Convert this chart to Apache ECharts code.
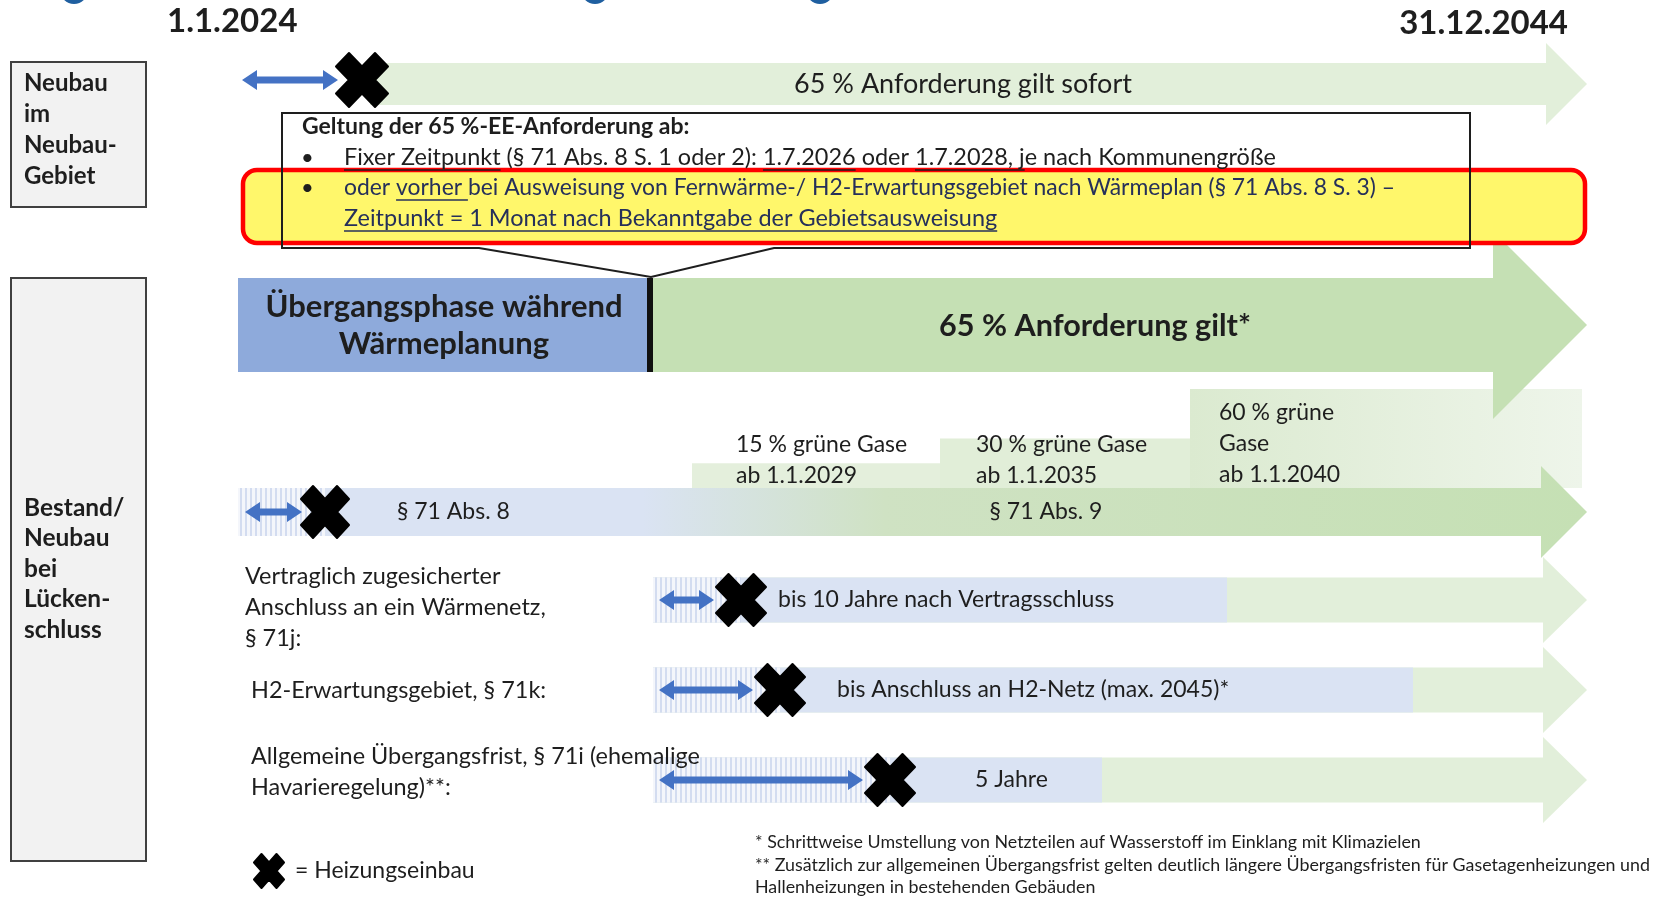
<!DOCTYPE html>
<html>
<head>
<meta charset="utf-8">
<script src="https://cdn.jsdelivr.net/npm/echarts@6/dist/echarts.min.js"></script>
<style>
  html, body { margin: 0; padding: 0; background: #fff; }
  #chart { width: 1666px; height: 899px; }
</style>
</head>
<body>
<div id="chart"></div>
<script>
// --- Daten -------------------------------------------------------------
// x-Achse = schematische Zeitachse (0..1666), y-Achse = Zeilen (0..899)
const dateLabels = ['1.1.2024', '31.12.2044'];
const groupLabels = [['Neubau', 'im', 'Neubau-', 'Gebiet'], ['Bestand/', 'Neubau', 'bei', 'Lücken-', 'schluss']];

const timelineStart = 238;   // 1.1.2024
const planningEnd = 651;     // Ende Übergangsphase / Wärmeplanung
const timelineEnd = 1587;    // Pfeilspitzen

const newAreaText = '65 % Anforderung gilt sofort';
const transitionText = ['Übergangsphase während', 'Wärmeplanung'];
const requirementText = '65 % Anforderung gilt*';

const noteTitle = 'Geltung der 65 %-EE-Anforderung ab:';
const noteLine1 = [['Fixer Zeitpunkt', 1], [' (§ 71 Abs. 8 S. 1 oder 2): ', 0], ['1.7.2026', 1], [' oder ', 0], ['1.7.2028, j', 1], ['e nach Kommunengröße', 0]];
const noteLine2 = [['oder ', 0], ['vorher ', 1], ['bei Ausweisung von Fernwärme-/ H2-Erwartungsgebiet nach Wärmeplan (§ 71 Abs. 8 S. 3) –', 0]];
const noteLine3 = [['Zeitpunkt = 1 Monat nach Bekanntgabe der Gebietsausweisung', 1]];

const gasLabels = [['15 % grüne Gase', 'ab 1.1.2029'], ['30 % grüne Gase', 'ab 1.1.2035'], ['60 % grüne', 'Gase', 'ab 1.1.2040']];
const gasFrom = [692, 940, 1190];
const gasShare = [15, 30, 60];

const par71Labels = ['§ 71 Abs. 8', '§ 71 Abs. 9'];
const par71Install = 325;

const rowLabels = [
  ['Vertraglich zugesicherter', 'Anschluss an ein Wärmenetz,', '§ 71j:'],
  ['H2-Erwartungsgebiet, § 71k:'],
  ['Allgemeine Übergangsfrist, § 71i (ehemalige', 'Havarieregelung)**:']
];
const rowTexts = ['bis 10 Jahre nach Vertragsschluss', 'bis Anschluss an H2-Netz (max. 2045)*', '5 Jahre'];
const rowFrom = [653, 653, 653];
const rowInstall = [741, 780, 890];
const rowBlueEnd = [1227, 1413, 1102];

const legendText = '= Heizungseinbau';
const footnotes = [
  '* Schrittweise Umstellung von Netzteilen auf Wasserstoff im Einklang mit Klimazielen',
  '** Zusätzlich zur allgemeinen Übergangsfrist gelten deutlich längere Übergangsfristen für Gasetagenheizungen und',
  'Hallenheizungen in bestehenden Gebäuden'
];

// --- Layout / Stil -----------------------------------------------------
const L = {
  topY: 84, topBand: 21, topHead: 41, topBase: 1546, topX: 362, topXY: 80,
  bigY: 325, bigBand: 47, bigHead: 94, bigBase: 1493,
  parY: 512, parBand: 24, parHead: 46, parBase: 1541,
  rowY: [600, 690, 780], rowBand: 22.5, rowHead: 43, rowBase: 1543,
  rowTextX: [778, 837, 975],
  gasBase: 488, gasScale: 1.65, gasEnd: 1582, gasTextX: [736, 976, 1219]
};
const INK = '#1e1e1e';
const BLUE = '#4472c4';
const FONT = 'Lato, "Noto Sans", sans-serif';
const fnt = (size, bold) => (bold ? 'bold ' : '') + size + 'px ' + FONT;

const measureCtx = document.createElement('canvas').getContext('2d');
function textWidth(str, font) { measureCtx.font = font; return measureCtx.measureText(str).width; }

// Schraffur (Zeitraum vor dem Heizungseinbau)
const hatchCanvas = document.createElement('canvas');
hatchCanvas.width = 5; hatchCanvas.height = 10;
(function () {
  const c = hatchCanvas.getContext('2d');
  c.fillStyle = '#f4f6fb'; c.fillRect(0, 0, 5, 10);
  c.fillStyle = '#d3dcf0'; c.fillRect(0, 0, 2, 10);
})();
const HATCH = { type: 'pattern', image: hatchCanvas, repeat: 'repeat' };

// --- Hilfsfunktionen ---------------------------------------------------
function txt(p, str, o) {
  return {
    type: 'text', x: p[0], y: p[1], scaleX: o.sx || 1,
    style: { text: str, x: 0, y: 0, font: o.font, fill: o.color || INK, align: o.align || 'left', verticalAlign: 'middle' }
  };
}
function poly(api, pts, style) {
  return { type: 'polygon', shape: { points: pts.map(q => api.coord(q)) }, style: style };
}
function box(api, x0, y0, x1, y1, style, r) {
  const a = api.coord([x0, y0]), b = api.coord([x1, y1]);
  return { type: 'rect', shape: { x: a[0], y: a[1], width: b[0] - a[0], height: b[1] - a[1], r: r || 0 }, style: style };
}
function arrowPts(x0, base, tip, yc, hb, hh) {
  return [[x0, yc - hb], [base, yc - hb], [base, yc - hh], [tip, yc], [base, yc + hh], [base, yc + hb], [x0, yc + hb]];
}
const CROSS_UNIT = [[-1, -0.5], [-0.5, -1], [0, -0.5], [0.5, -1], [1, -0.5], [0.5, 0], [1, 0.5], [0.5, 1], [0, 0.5], [-0.5, 1], [-1, 0.5], [-0.5, 0]];
function cross(api, cx, cy, sx, sy) {
  return poly(api, CROSS_UNIT.map(u => [cx + u[0] * sx, cy + u[1] * sy]),
    { fill: '#000', stroke: '#000', lineWidth: 2, lineJoin: 'round' });
}
function dblArrow(api, x0, x1, y) {
  const Lh = 15, h = 10, t = 3.5;
  return poly(api, [[x0, y], [x0 + Lh, y - h], [x0 + Lh, y - t], [x1 - Lh, y - t], [x1 - Lh, y - h], [x1, y],
    [x1 - Lh, y + h], [x1 - Lh, y + t], [x0 + Lh, y + t], [x0 + Lh, y + h]], { fill: BLUE });
}
function richLine(api, x, y, segs, font, color, sx) {
  const out = [];
  const p = api.coord([x, y]);
  let cx = p[0];
  segs.forEach(s => {
    const w = textWidth(s[0], font) * sx;
    out.push(txt([cx, p[1]], s[0], { font: font, color: color, sx: sx }));
    if (s[1]) out.push({ type: 'line', shape: { x1: cx, y1: p[1] + 12, x2: cx + w, y2: p[1] + 12 }, style: { stroke: color, lineWidth: 1.3 } });
    cx += w;
  });
  return out;
}
function lines(api, x, y0, step, arr, o) {
  return arr.map((s, i) => txt(api.coord([x, y0 + i * step]), s, o));
}

// --- Renderer ----------------------------------------------------------
function renderGas(params, api) {
  const i = params.dataIndex;
  const x0 = gasFrom[i];
  const x1 = i < gasFrom.length - 1 ? gasFrom[i + 1] : L.gasEnd;
  const top = L.gasBase - gasShare[i] * L.gasScale;
  const fills = ['#e4efdc', '#e1eed8',
    { type: 'linear', x: 0, y: 0, x2: 1, y2: 0, colorStops: [{ offset: 0, color: '#dbead0' }, { offset: 1, color: '#eef5ea' }] }];
  const lab = gasLabels[i];
  const y0 = lab.length === 3 ? 413 : 445;
  return {
    type: 'group', children: [box(api, x0, top, x1, L.gasBase, { fill: fills[i] })]
      .concat(lines(api, L.gasTextX[i], y0, 31, lab, { font: fnt(23) }))
  };
}

function renderNewArea(params, api) {
  return {
    type: 'group', children: [
      poly(api, arrowPts(370, L.topBase, timelineEnd, L.topY, L.topBand, L.topHead), { fill: '#e2efda' }),
      dblArrow(api, 242, 338, L.topXY),
      cross(api, L.topX, L.topXY, 26, 27),
      txt(api.coord([963, L.topY]), newAreaText, { font: fnt(27), align: 'center' })
    ]
  };
}

function renderNote(params, api) {
  const out = [
    box(api, 243, 170, 1585, 243, { fill: '#fff76b', stroke: '#ff0000', lineWidth: 4.5 }, 14),
    poly(api, [[282, 113], [1470, 113], [1470, 248], [774, 248], [651, 277], [479, 248], [282, 248]],
      { fill: null, stroke: INK, lineWidth: 2 }),
    txt(api.coord([302, 127]), noteTitle, { font: fnt(23, true) }),
    txt(api.coord([301, 158]), '•', { font: fnt(22) }),
    txt(api.coord([301, 188]), '•', { font: fnt(22) })
  ];
  return {
    type: 'group', children: out
      .concat(richLine(api, 344, 158, noteLine1, fnt(23), INK, 1.02))
      .concat(richLine(api, 344, 188, noteLine2, fnt(23), '#26305a', 0.995))
      .concat(richLine(api, 344, 219, noteLine3, fnt(23), '#26305a', 1.02))
  };
}

function renderTransition(params, api) {
  return {
    type: 'group', children: [
      box(api, timelineStart, L.bigY - L.bigBand, planningEnd, L.bigY + L.bigBand, { fill: '#8eaadb' }),
      poly(api, arrowPts(planningEnd, L.bigBase, timelineEnd, L.bigY, L.bigBand, L.bigHead), { fill: '#c5e0b4' }),
      box(api, planningEnd - 4, L.bigY - L.bigBand, planningEnd + 2, L.bigY + L.bigBand, { fill: '#111' }),
      txt(api.coord([444, 307]), transitionText[0], { font: fnt(31, true), align: 'center' }),
      txt(api.coord([444, 344]), transitionText[1], { font: fnt(31, true), align: 'center' }),
      txt(api.coord([1095, 326]), requirementText, { font: fnt(30, true), sx: 1.02, align: 'center' })
    ]
  };
}

function renderPar71(params, api) {
  const grad = {
    type: 'linear', x: 0, y: 0, x2: 1, y2: 0, colorStops: [
      { offset: 0, color: '#dae3f3' }, { offset: 0.3, color: '#dae3f3' },
      { offset: 0.48, color: '#cfe2c3' }, { offset: 1, color: '#c5e0b4' }]
  };
  return {
    type: 'group', children: [
      poly(api, arrowPts(timelineStart, L.parBase, timelineEnd, L.parY, L.parBand, L.parHead), { fill: grad }),
      box(api, timelineStart, L.parY - L.parBand, par71Install, L.parY + L.parBand, { fill: HATCH }),
      dblArrow(api, 245, 302, L.parY),
      cross(api, par71Install, L.parY, 24, 26),
      txt(api.coord([397, L.parY]), par71Labels[0], { font: fnt(23) }),
      txt(api.coord([1046, L.parY]), par71Labels[1], { font: fnt(23), align: 'center' })
    ]
  };
}

function renderRow(params, api) {
  const i = params.dataIndex;
  const y = L.rowY[i];
  const lab = rowLabels[i];
  const labY0 = lab.length === 3 ? 577 : (lab.length === 2 ? 757 : 691);
  const labX = i === 0 ? 245 : 251;
  return {
    type: 'group', children: [
      poly(api, arrowPts(rowFrom[i], L.rowBase, timelineEnd, y, L.rowBand, L.rowHead), { fill: '#e2efda' }),
      box(api, rowFrom[i], y - L.rowBand, rowBlueEnd[i], y + L.rowBand, { fill: '#dae3f3' }),
      box(api, rowFrom[i], y - L.rowBand, rowInstall[i], y + L.rowBand, { fill: HATCH }),
      dblArrow(api, rowFrom[i] + 6, rowInstall[i] - 27, y),
      cross(api, rowInstall[i], y, 25, 26),
      txt(api.coord([L.rowTextX[i], y]), rowTexts[i], { font: fnt(23) })
    ].concat(lines(api, labX, labY0, 31, lab, { font: fnt(23), sx: 1.02 }))
  };
}

function renderFrame(params, api) {
  const out = [
    box(api, 11, 62, 146, 207, { fill: '#f2f2f2', stroke: '#404040', lineWidth: 2 }),
    box(api, 11, 278, 146, 861, { fill: '#f2f2f2', stroke: '#404040', lineWidth: 2 }),
    txt(api.coord([167, 21]), dateLabels[0], { font: fnt(33, true) }),
    txt(api.coord([1568, 23]), dateLabels[1], { font: fnt(33, true), align: 'right' }),
    cross(api, 269, 871, 15, 17),
    txt(api.coord([295, 871]), legendText, { font: fnt(23) })
  ];
  [[74, -10], [595, -10], [820, -10]].forEach(c => {
    const p = api.coord(c);
    out.push({ type: 'circle', shape: { cx: p[0], cy: p[1], r: 14 }, style: { fill: '#1f5fa0' } });
  });
  return {
    type: 'group', children: out
      .concat(lines(api, 24, 83, 31, groupLabels[0], { font: fnt(24, true) }))
      .concat(lines(api, 24, 508, 30.5, groupLabels[1], { font: fnt(24, true), sx: 1.02 }))
      .concat(lines(api, 755, 843, 22.5, footnotes, { font: fnt(17), sx: 1.05 }))
  };
}

// --- Chart -------------------------------------------------------------
const chart = echarts.init(document.getElementById('chart'), null, { renderer: 'canvas' });
const single = [[0, 0]];
function series(name, data, fn) {
  return { type: 'custom', name: name, coordinateSystem: 'cartesian2d', data: data, renderItem: fn, clip: false, silent: true };
}
chart.setOption({
  animation: false,
  backgroundColor: '#ffffff',
  grid: { left: 0, right: 0, top: 0, bottom: 0 },
  xAxis: { type: 'value', min: 0, max: 1666, show: false },
  yAxis: { type: 'value', min: 0, max: 899, inverse: true, show: false },
  series: [
    series('gas', gasShare.map((s, i) => [gasFrom[i], s]), renderGas),
    series('newArea', single, renderNewArea),
    series('transition', single, renderTransition),
    series('note', single, renderNote),
    series('par71', single, renderPar71),
    series('rows', rowTexts.map((t, i) => [rowFrom[i], i]), renderRow),
    series('frame', single, renderFrame)
  ]
});
</script>
</body>
</html>
